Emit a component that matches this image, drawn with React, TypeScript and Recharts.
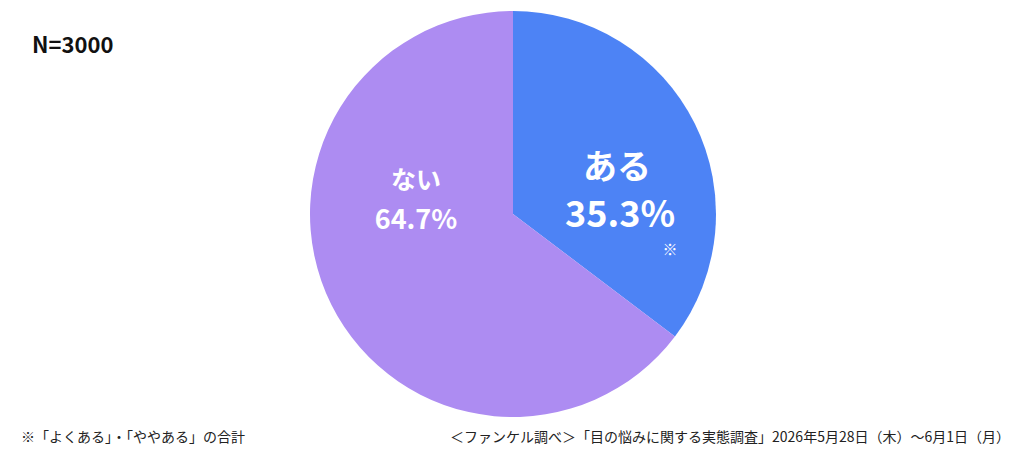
import { PieChart, Pie, Cell } from 'recharts';

const categories = ['ある', 'ない'];
const values = [35.3, 64.7];
const colors = ['#4d83f5', '#ad8cf2'];

const FONT = '"Noto Sans CJK JP", "Noto Sans", sans-serif';

// label placement relative to pie centre (per slice)
const labelOffsets: Record<string, { dx: number; nameDy: number; valDy: number; nameSize: number; valSize: number; mark: boolean }> = {
  'ある': { dx: 104, nameDy: -50, valDy: -3, nameSize: 34, valSize: 36, mark: true },
  'ない': { dx: -97, nameDy: -36, valDy: 3, nameSize: 25, valSize: 27, mark: false },
};

const data = categories.map((name, i) => ({ name, value: values[i] }));

const renderLabel = (props: any) => {
  const { cx, cy, name, value } = props;
  const o = labelOffsets[name];
  const x = cx + o.dx;
  return (
    <g>
      <text x={x} y={cy + o.nameDy} fill="#fff" fontFamily={FONT} fontWeight={700} fontSize={o.nameSize} textAnchor="middle" dominantBaseline="central">
        {name}
      </text>
      <text x={x + (o.mark ? 3 : 0)} y={cy + o.valDy} fill="#fff" fontFamily={FONT} fontWeight={700} fontSize={o.valSize} textAnchor="middle" dominantBaseline="central">
        {value.toFixed(1)}%
      </text>
      {o.mark && (
        <text x={x + 53} y={cy + 34} fill="#fff" fontFamily={FONT} fontSize={15} textAnchor="middle" dominantBaseline="central">
          ※
        </text>
      )}
    </g>
  );
};

export default function App() {
  return (
    <div style={{ position: 'absolute', left: 0, top: 0, width: 1024, height: 457, background: '#fff', fontFamily: FONT }}>
      <PieChart width={1024} height={457} margin={{ top: 0, right: 0, bottom: 0, left: 0 }}>
        <Pie
          data={data}
          dataKey="value"
          nameKey="name"
          cx={513}
          cy={214}
          outerRadius={203}
          startAngle={90}
          endAngle={-270}
          stroke="none"
          label={renderLabel}
          labelLine={false}
          isAnimationActive={false}
        >
          {data.map((d, i) => (
            <Cell key={d.name} fill={colors[i]} />
          ))}
        </Pie>
      </PieChart>
      <div style={{ position: 'absolute', left: 32, top: 27, fontSize: 22, fontWeight: 700, color: '#111', fontFamily: FONT }}>
        N=3000
      </div>
      <div style={{ position: 'absolute', left: 21, top: 426, fontSize: 14, color: '#222', fontFamily: FONT }}>
        ※「よくある」・「ややある」の合計
      </div>
      <div style={{ position: 'absolute', right: 14, top: 426, fontSize: 14, color: '#222', fontFamily: FONT, whiteSpace: 'nowrap' }}>
        ＜ファンケル調べ＞「目の悩みに関する実態調査」2026年5月28日（木）～6月1日（月）
      </div>
    </div>
  );
}
